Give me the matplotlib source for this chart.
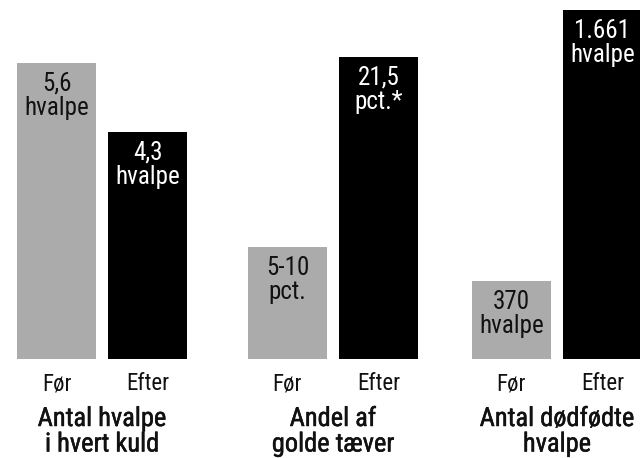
import matplotlib
matplotlib.use("Agg")
import matplotlib.pyplot as plt
import matplotlib.patheffects as pe

plt.rcParams['font.family'] = ['Roboto Condensed', 'DejaVu Sans']

# data
periods = ["Før", "Efter"]
groups = ["Antal hvalpe\ni hvert kuld", "Andel af\ngolde tæver", "Antal dødfødte\nhvalpe"]
values = [[5.6, 4.3], [8.0, 21.5], [370, 1661]]
value_labels = [["5,6\nhvalpe", "4,3\nhvalpe"],
                ["5-10\npct.", "21,5\npct.*"],
                ["370\nhvalpe", "1.661\nhvalpe"]]
colors = ["#ababab", "#000000"]
# top of each group's y scale (each group has its own scale)
ytops = [6.79, 25.55, 1708.6]

W, H = 640, 458
fig = plt.figure(figsize=(W / 100, H / 100), dpi=100)
lefts = [17, 248, 472]
base_y = 359
bw = 79 / 91.0

for k in range(3):
    ax = fig.add_axes([lefts[k] / W, (H - base_y) / H, 170 / W, base_y / H])
    x = [0, 1]
    ax.bar(x, values[k], width=bw, color=colors)
    ax.set_xlim(-bw / 2, 1 + bw / 2)
    ax.set_ylim(0, ytops[k])
    for i in range(2):
        ax.annotate(value_labels[k][i], xy=(i, values[k][i]), xytext=(0, -6.5),
                    textcoords="offset points", ha="center", va="top",
                    fontsize=18, linespacing=1.0,
                    color="white" if i == 1 else "#111111")
    ax.set_xticks(x)
    ax.set_xticklabels(periods, fontsize=16.5, color="#111111")
    ax.tick_params(axis="x", length=0, pad=9.5)
    ax.set_yticks([])
    lab = ax.set_xlabel(groups[k], fontsize=19, linespacing=1.08,
                        labelpad=8.5, color="#111111")
    lab.set_path_effects([pe.withStroke(linewidth=0.35, foreground="#111111")])
    for s in ax.spines.values():
        s.set_visible(False)
    ax.patch.set_alpha(0)

fig.savefig("out.png", dpi=100)
